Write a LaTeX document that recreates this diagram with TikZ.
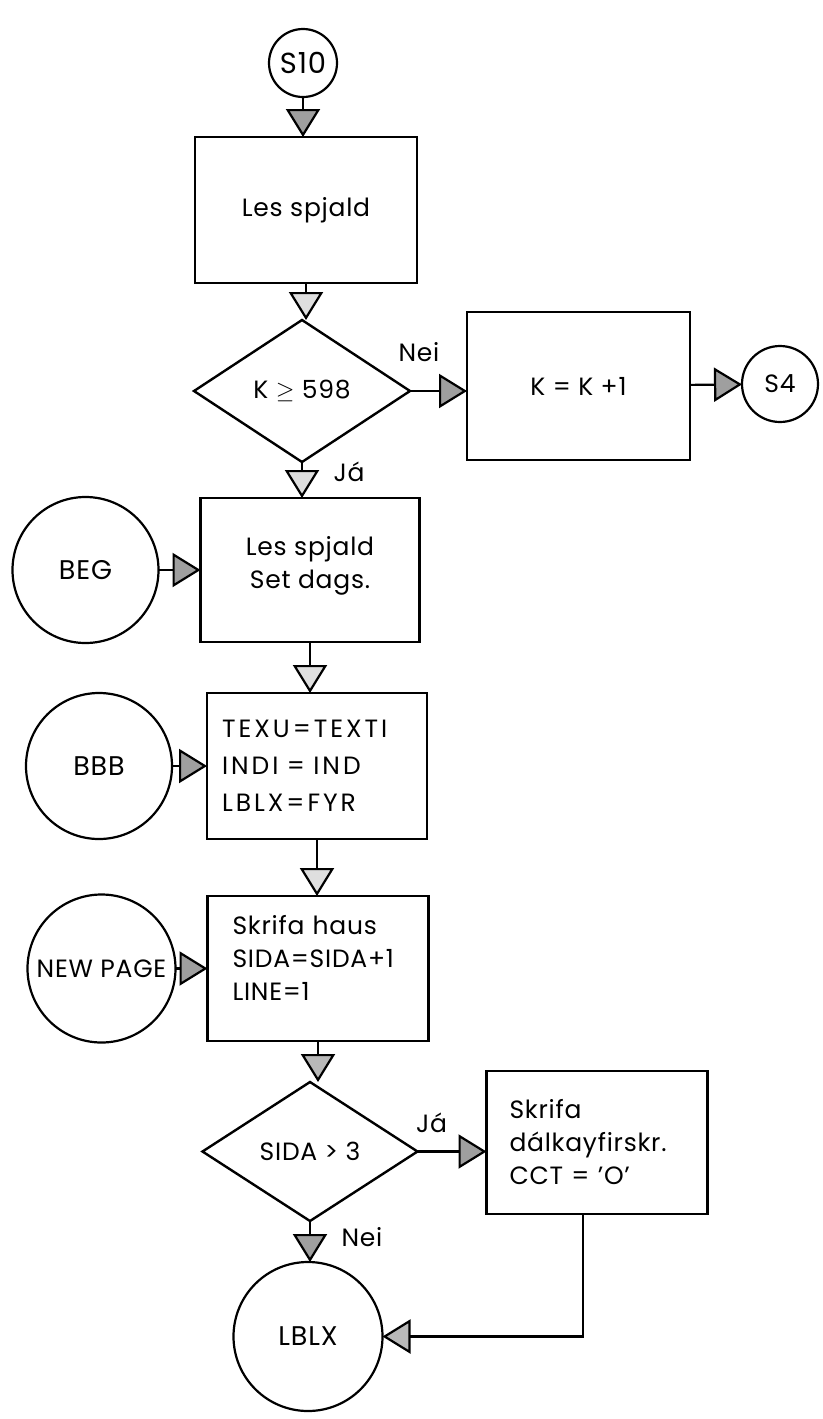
\documentclass[tikz,border=0pt]{standalone}
\usepackage{fontspec}
\setmainfont{Poppins}[LetterSpace=3]
\usetikzlibrary{positioning, arrows.meta, shapes.geometric}

\begin{document}
\begin{tikzpicture}[
    x=1pt, y=1pt,
    font=\fontsize{12.5}{16.5}\selectfont,
    node distance=20pt and 20pt,
    tipdark/.tip={Triangle[length=14pt, width=17pt, fill=gray!75]},
    tipmid/.tip={Triangle[length=14pt, width=17pt, fill=gray!55]},
    tiplight/.tip={Triangle[length=14pt, width=17pt, fill=gray!25]},
    flow/.style={line width=1.1pt},
    arrdark/.style={flow, -tipdark},
    arrmid/.style={flow, -tipmid},
    arrlight/.style={flow, -tiplight},
    box/.style={
        draw,
        line width=1.4pt,
        minimum width=110pt,
        minimum height=73pt,
        inner sep=0pt,
        outer sep=0pt,
        align=center
    },
    listbox/.style={box, align=left, text width=#1},
    circ/.style={draw, circle, line width=1.1pt, inner sep=0pt, outer sep=0pt, minimum size=#1},
    decision/.style={
        draw,
        diamond,
        aspect=1.6,
        line width=1.2pt,
        inner sep=0pt,
        outer sep=0pt,
        minimum width=108pt,
        minimum height=71pt
    },
    branch/.style={inner sep=0pt}
]
\useasboundingbox (0,0) rectangle (411.5,-709.5);

% Start and first read
\node[circ=34pt, font=\fontsize{14.5}{16}\selectfont] (S10) at (151.5,-31.5) {S10};
\node[box, below=20pt of S10, xshift=1.5pt, minimum width=111pt] (lesA) {Les spjald};

% Counter test
\node[decision, below=18.5pt of lesA, xshift=-2pt] (kcheck) {K $\geq$ 598};
\node[box, right=28.5pt of kcheck, yshift=2.5pt, minimum width=111.5pt, minimum height=74pt] (incK) {K = K +1};
\node[circ=38pt, right=26pt of incK, yshift=1pt] (S4) {S4};

% Main column
\node[box, below=18pt of kcheck, xshift=4pt, minimum width=109.5pt, minimum height=72pt] (lesB) {Les spjald\\Set dags.\\[-9pt]\mbox{}};
\node[circ=73pt, left=21pt of lesB, font=\fontsize{13.5}{16}\selectfont] (BEG) {BEG};
\node[listbox=95pt, below=25.5pt of lesB, xshift=3.5pt, font={\fontsize{12.5}{16.5}\selectfont\addfontfeature{LetterSpace=12}}] (texu) {TEXU=TEXTI\\[2pt]INDI = IND\\[2pt]LBLX=FYR};
\node[circ=73pt, left=17.5pt of texu, font=\fontsize{13.5}{16}\selectfont] (BBB) {BBB};
\node[listbox=85.5pt, below=28.5pt of texu, xshift=0.5pt, minimum width=110.5pt, minimum height=72.5pt] (haus) {Skrifa haus\\SIDA=SIDA+1\\LINE=1\\[-6pt]\mbox{}};
\node[circ=74pt, left=16pt of haus] (newpage) {NEW PAGE};

% Page test
\node[decision, below=20.5pt of haus, xshift=-4pt, minimum width=107.5pt, minimum height=69.5pt] (sida) {SIDA > 3};
\node[listbox=87.5pt, right=34.5pt of sida, yshift=4.5pt, minimum width=110.5pt, minimum height=71.5pt] (dalk) {Skrifa\\dálkayfirskr.\\CCT = 'O'};
\node[circ=74.5pt, below=20.5pt of sida, xshift=-1pt, font=\fontsize{13.5}{16}\selectfont] (LBLX) {LBLX};

% Branch labels
\node[branch] (neiA) at ([xshift=4.5pt, yshift=19.5pt]kcheck.east) {Nei};
\node[branch] (jaA) at ([xshift=23.5pt, yshift=-5pt]kcheck.south) {Já};
\node[branch] (jaB) at ([xshift=7pt, yshift=14.5pt]sida.east) {Já};
\node[branch] (neiB) at ([xshift=26pt, yshift=-8pt]sida.south) {Nei};

% Edges
\draw[arrdark] (S10) -- (S10 |- lesA.north);
\draw[arrlight] (lesA) -- (lesA |- kcheck.north);
\draw[arrdark] (kcheck) -- (kcheck -| incK.west);
\draw[arrdark] (incK) -- (S4);
\draw[arrlight] (kcheck) -- (kcheck |- lesB.north);
\draw[arrdark] (BEG) -- (lesB);
\draw[arrlight] (lesB) -- (lesB |- texu.north);
\draw[arrdark] (BBB) -- (texu);
\draw[arrlight] (texu) -- (texu |- haus.north);
\draw[arrdark] (newpage) -- (haus);
\draw[arrmid] (haus) -- (haus |- sida.north);
\draw[arrdark] (sida) -- (sida -| dalk.west);
\draw[arrdark] (sida) -- (sida |- LBLX.north);
\draw[arrmid] ([xshift=-7pt]dalk.south) |- (LBLX);

\end{tikzpicture}
\end{document}
